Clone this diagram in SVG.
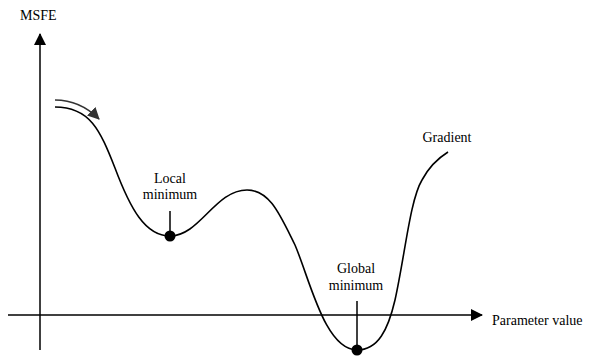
<svg xmlns="http://www.w3.org/2000/svg" width="593" height="359" viewBox="0 0 593 359">
<defs>
<style>
.t{font-family:'Liberation Serif','Times New Roman','DejaVu Serif',serif;font-size:14px;fill:#000}
.ax{stroke:#000;stroke-width:1.5;fill:none}
.cv{stroke:#000;stroke-width:1.6;fill:none}
</style>
<marker id="ah" markerWidth="12" markerHeight="12" refX="11" refY="6" orient="auto" markerUnits="userSpaceOnUse"><path d="M0,0 L12,6 L0,12 Z" fill="#000"/></marker>
<marker id="gh" markerWidth="12" markerHeight="12" refX="11" refY="6" orient="auto" markerUnits="userSpaceOnUse"><path d="M0,0 L12,6 L0,12 Z" fill="#333"/></marker>
</defs>
<g id="connectors">
<line class="ax" x1="40" y1="350" x2="40" y2="34" marker-end="url(#ah)"/>
<line class="ax" x1="8" y1="315" x2="482" y2="315" marker-end="url(#ah)"/>
<path class="cv" d="M55,107 C90,107 100,130 115,168 C130,208 145,236 170,236 C200,236 215,190 247,190 C270,190 280,215 295,245 C310,280 325,350 357,350 C378,350 388,330 395,300 C405,255 410,200 422,180 C430,165 440,157 448,152"/>
<path d="M55,100 C70,100 85,105 99,119" stroke="#333" stroke-width="1.6" fill="none" marker-end="url(#gh)"/>
<line class="ax" x1="170" y1="211" x2="170" y2="236"/>
<line class="ax" x1="357" y1="301" x2="357" y2="350"/>
</g>
<g id="y-axis-label" class="t" font-family="Liberation Serif, serif"><text x="20" y="20">MSFE</text></g>
<g id="x-axis-label" class="t" font-family="Liberation Serif, serif"><text x="492" y="325">Parameter value</text></g>
<g id="local-minimum" class="t" font-family="Liberation Serif, serif">
<circle cx="170" cy="236" r="5.5" fill="#000"/>
<text x="170" y="183" text-anchor="middle">Local</text>
<text x="170" y="199" text-anchor="middle">minimum</text>
</g>
<g id="global-minimum" class="t" font-family="Liberation Serif, serif">
<circle cx="357" cy="350" r="5.5" fill="#000"/>
<text x="356" y="273" text-anchor="middle">Global</text>
<text x="356" y="290" text-anchor="middle">minimum</text>
</g>
<g id="gradient" class="t" font-family="Liberation Serif, serif"><text x="447" y="142" text-anchor="middle">Gradient</text></g>
</svg>
